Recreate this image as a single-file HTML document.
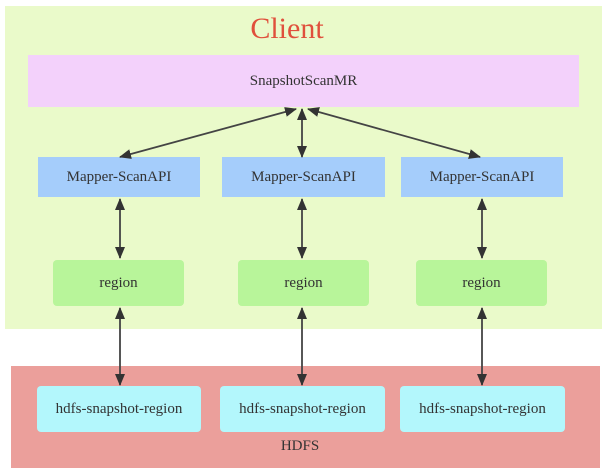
<!DOCTYPE html><html><head><style>
body{margin:0;width:609px;height:474px;background:#fff;position:relative;font-family:"Liberation Serif",serif;overflow:hidden}
.b{position:absolute;display:flex;align-items:center;justify-content:center;font-size:15px;color:#333}
</style></head><body>
<div class="b" style="left:5px;top:6px;width:597px;height:323px;background:#eafaca"></div>
<div class="b" style="left:11px;top:366px;width:589px;height:102px;background:#eb9f9b"></div>
<div class="b" style="left:200px;top:9px;width:174px;height:40px;font-size:30px;color:#e0503c">Client</div>
<div class="b" style="left:28px;top:55px;width:551px;height:52px;background:#f3d1fb">SnapshotScanMR</div>
<div class="b" style="left:38px;top:157px;width:162px;height:40px;background:#a5cdfb">Mapper-ScanAPI</div>
<div class="b" style="left:222px;top:157px;width:163px;height:40px;background:#a5cdfb">Mapper-ScanAPI</div>
<div class="b" style="left:401px;top:157px;width:162px;height:40px;background:#a5cdfb">Mapper-ScanAPI</div>
<div class="b" style="left:53px;top:260px;width:131px;height:46px;background:#b8f59a;border-radius:4px">region</div>
<div class="b" style="left:238px;top:260px;width:131px;height:46px;background:#b8f59a;border-radius:4px">region</div>
<div class="b" style="left:416px;top:260px;width:131px;height:46px;background:#b8f59a;border-radius:4px">region</div>
<div class="b" style="left:37px;top:386px;width:164px;height:46px;background:#b3f7fc;border-radius:4px">hdfs-snapshot-region</div>
<div class="b" style="left:220px;top:386px;width:165px;height:46px;background:#b3f7fc;border-radius:4px">hdfs-snapshot-region</div>
<div class="b" style="left:400px;top:386px;width:165px;height:46px;background:#b3f7fc;border-radius:4px">hdfs-snapshot-region</div>
<div class="b" style="left:250px;top:436px;width:100px;height:20px">HDFS</div>
<svg width="609" height="474" style="position:absolute;left:0;top:0">
<defs><marker id="a" markerWidth="12" markerHeight="10" refX="11" refY="5" orient="auto-start-reverse" markerUnits="userSpaceOnUse"><path d="M0,0L12,5L0,10z" fill="#333"/></marker></defs>
<g stroke="#444" stroke-width="1.8" marker-start="url(#a)" marker-end="url(#a)">
<line x1="296" y1="109" x2="120" y2="157"/>
<line x1="302" y1="109" x2="302" y2="157"/>
<line x1="308" y1="109" x2="480" y2="157"/>
<line x1="120" y1="199" x2="120" y2="258"/>
<line x1="302" y1="199" x2="302" y2="258"/>
<line x1="482" y1="199" x2="482" y2="258"/>
<line x1="120" y1="308" x2="120" y2="385"/>
<line x1="302" y1="308" x2="302" y2="385"/>
<line x1="482" y1="308" x2="482" y2="385"/>
</g></svg>
</body></html>
